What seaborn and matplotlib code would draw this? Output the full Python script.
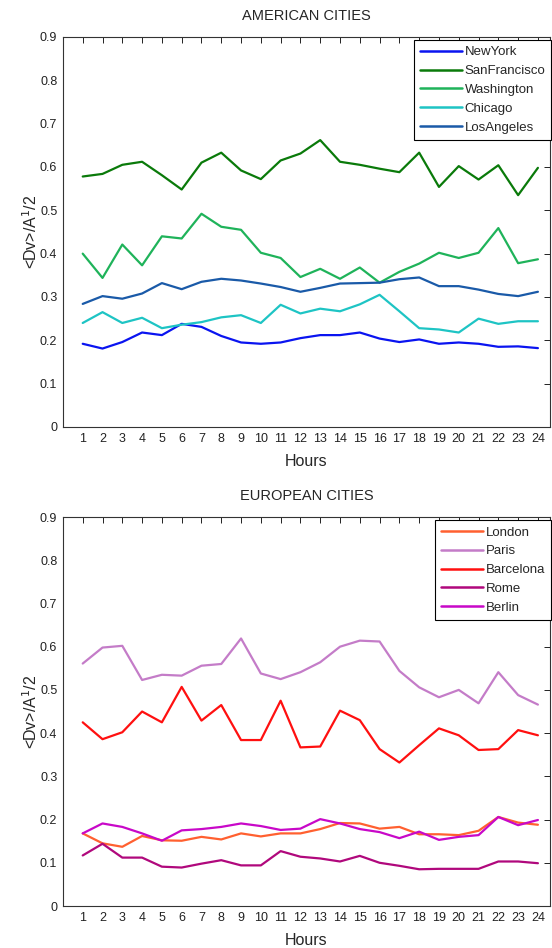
import numpy as np
import pandas as pd
import seaborn as sns
import matplotlib.pyplot as plt

hours = list(range(1, 25))

# american cities
new_york = [0.192, 0.181, 0.196, 0.218, 0.212, 0.238, 0.231, 0.210, 0.195, 0.192, 0.195, 0.205,
            0.212, 0.212, 0.218, 0.204, 0.196, 0.202, 0.192, 0.195, 0.192, 0.185, 0.186, 0.182]
san_francisco = [0.578, 0.584, 0.605, 0.612, 0.581, 0.548, 0.610, 0.633, 0.592, 0.572, 0.615, 0.631,
                 0.662, 0.612, 0.605, 0.596, 0.588, 0.633, 0.554, 0.602, 0.571, 0.604, 0.535, 0.598]
washington = [0.400, 0.344, 0.421, 0.373, 0.440, 0.435, 0.492, 0.462, 0.455, 0.402, 0.390, 0.346,
              0.365, 0.342, 0.368, 0.333, 0.358, 0.377, 0.402, 0.390, 0.402, 0.459, 0.378, 0.387]
chicago = [0.240, 0.265, 0.240, 0.252, 0.228, 0.236, 0.242, 0.253, 0.258, 0.240, 0.282, 0.262,
           0.273, 0.267, 0.283, 0.305, 0.267, 0.228, 0.225, 0.218, 0.250, 0.238, 0.244, 0.244]
los_angeles = [0.284, 0.302, 0.296, 0.308, 0.332, 0.318, 0.335, 0.342, 0.338, 0.331, 0.323, 0.312,
               0.321, 0.331, 0.332, 0.333, 0.341, 0.345, 0.325, 0.325, 0.317, 0.307, 0.302, 0.312]

# european cities
london = [0.168, 0.145, 0.137, 0.162, 0.152, 0.151, 0.160, 0.154, 0.168, 0.161, 0.168, 0.168,
          0.178, 0.192, 0.191, 0.179, 0.183, 0.166, 0.166, 0.164, 0.174, 0.206, 0.193, 0.188]
paris = [0.561, 0.598, 0.602, 0.523, 0.535, 0.533, 0.556, 0.560, 0.619, 0.538, 0.525, 0.541,
         0.564, 0.600, 0.614, 0.612, 0.544, 0.506, 0.483, 0.500, 0.469, 0.541, 0.488, 0.466]
barcelona = [0.425, 0.386, 0.402, 0.450, 0.425, 0.507, 0.429, 0.465, 0.384, 0.384, 0.475, 0.367,
             0.369, 0.452, 0.430, 0.363, 0.332, 0.372, 0.411, 0.395, 0.361, 0.363, 0.407, 0.395]
rome = [0.117, 0.144, 0.112, 0.112, 0.091, 0.089, 0.098, 0.106, 0.094, 0.094, 0.127, 0.114,
        0.110, 0.103, 0.116, 0.100, 0.093, 0.085, 0.086, 0.086, 0.086, 0.103, 0.103, 0.099]
berlin = [0.168, 0.191, 0.183, 0.168, 0.151, 0.175, 0.178, 0.183, 0.191, 0.185, 0.176, 0.179,
          0.201, 0.191, 0.178, 0.171, 0.157, 0.172, 0.153, 0.160, 0.164, 0.206, 0.187, 0.199]

us = {'NewYork': new_york, 'SanFrancisco': san_francisco, 'Washington': washington,
      'Chicago': chicago, 'LosAngeles': los_angeles}
eu = {'London': london, 'Paris': paris, 'Barcelona': barcelona, 'Rome': rome, 'Berlin': berlin}

us_colors = {'NewYork': '#0a14f0', 'SanFrancisco': '#0a7a0a', 'Washington': '#1fb35a',
             'Chicago': '#1ec4c4', 'LosAngeles': '#1a5aa8'}
eu_colors = {'London': '#ff6030', 'Paris': '#c47cc8', 'Barcelona': '#ff1010',
             'Rome': '#b0087c', 'Berlin': '#c808c8'}

sns.set_style('white')
plt.rcParams['font.family'] = ['Liberation Sans', 'DejaVu Sans']

fig = plt.figure(figsize=(5.52, 9.48), dpi=100)
ax1 = fig.add_axes([0.114, 0.5496, 0.882, 0.4114])
ax2 = fig.add_axes([0.114, 0.0443, 0.882, 0.4103])


def draw(ax, data, colors, title):
    df = pd.DataFrame(data)
    df['Hours'] = hours
    long = df.melt(id_vars='Hours', var_name='city', value_name='v')
    sns.lineplot(data=long, x='Hours', y='v', hue='city', palette=colors,
                 linewidth=1.6, ax=ax)
    ax.set_xlim(0, 24.6)
    ax.set_ylim(0, 0.9)
    ax.set_xticks(hours)
    ax.set_xticklabels([str(h) for h in hours], fontsize=9)
    ax.set_yticks(np.arange(0, 0.91, 0.1))
    ax.set_yticklabels(['0'] + ['%.1f' % t for t in np.arange(0.1, 0.91, 0.1)], fontsize=9)
    ax.tick_params(direction='in', length=4, width=0.7, top=True, right=True, pad=4,
                   colors='#222222')
    for s in ax.spines.values():
        s.set_color('#333333')
        s.set_linewidth(0.8)
    ax.set_xlabel('Hours', fontsize=11.5, labelpad=7)
    ax.set_ylabel(r'<Dv>/A$^{1}$/2', fontsize=11.5, labelpad=0)
    ax.set_title(title, fontsize=10.5, pad=12)
    leg = ax.legend(loc='upper right', bbox_to_anchor=(1.01, 1.0), fontsize=9.5,
                    frameon=True, fancybox=False, framealpha=1, edgecolor='black',
                    handlelength=3.2, handletextpad=0.2, borderpad=0.45,
                    labelspacing=0.5, borderaxespad=0.25)
    leg.get_frame().set_linewidth(0.8)
    for line in leg.get_lines():
        line.set_linewidth(1.8)


draw(ax1, us, us_colors, 'AMERICAN CITIES')
draw(ax2, eu, eu_colors, 'EUROPEAN CITIES')

fig.savefig('out.png', dpi=100)
